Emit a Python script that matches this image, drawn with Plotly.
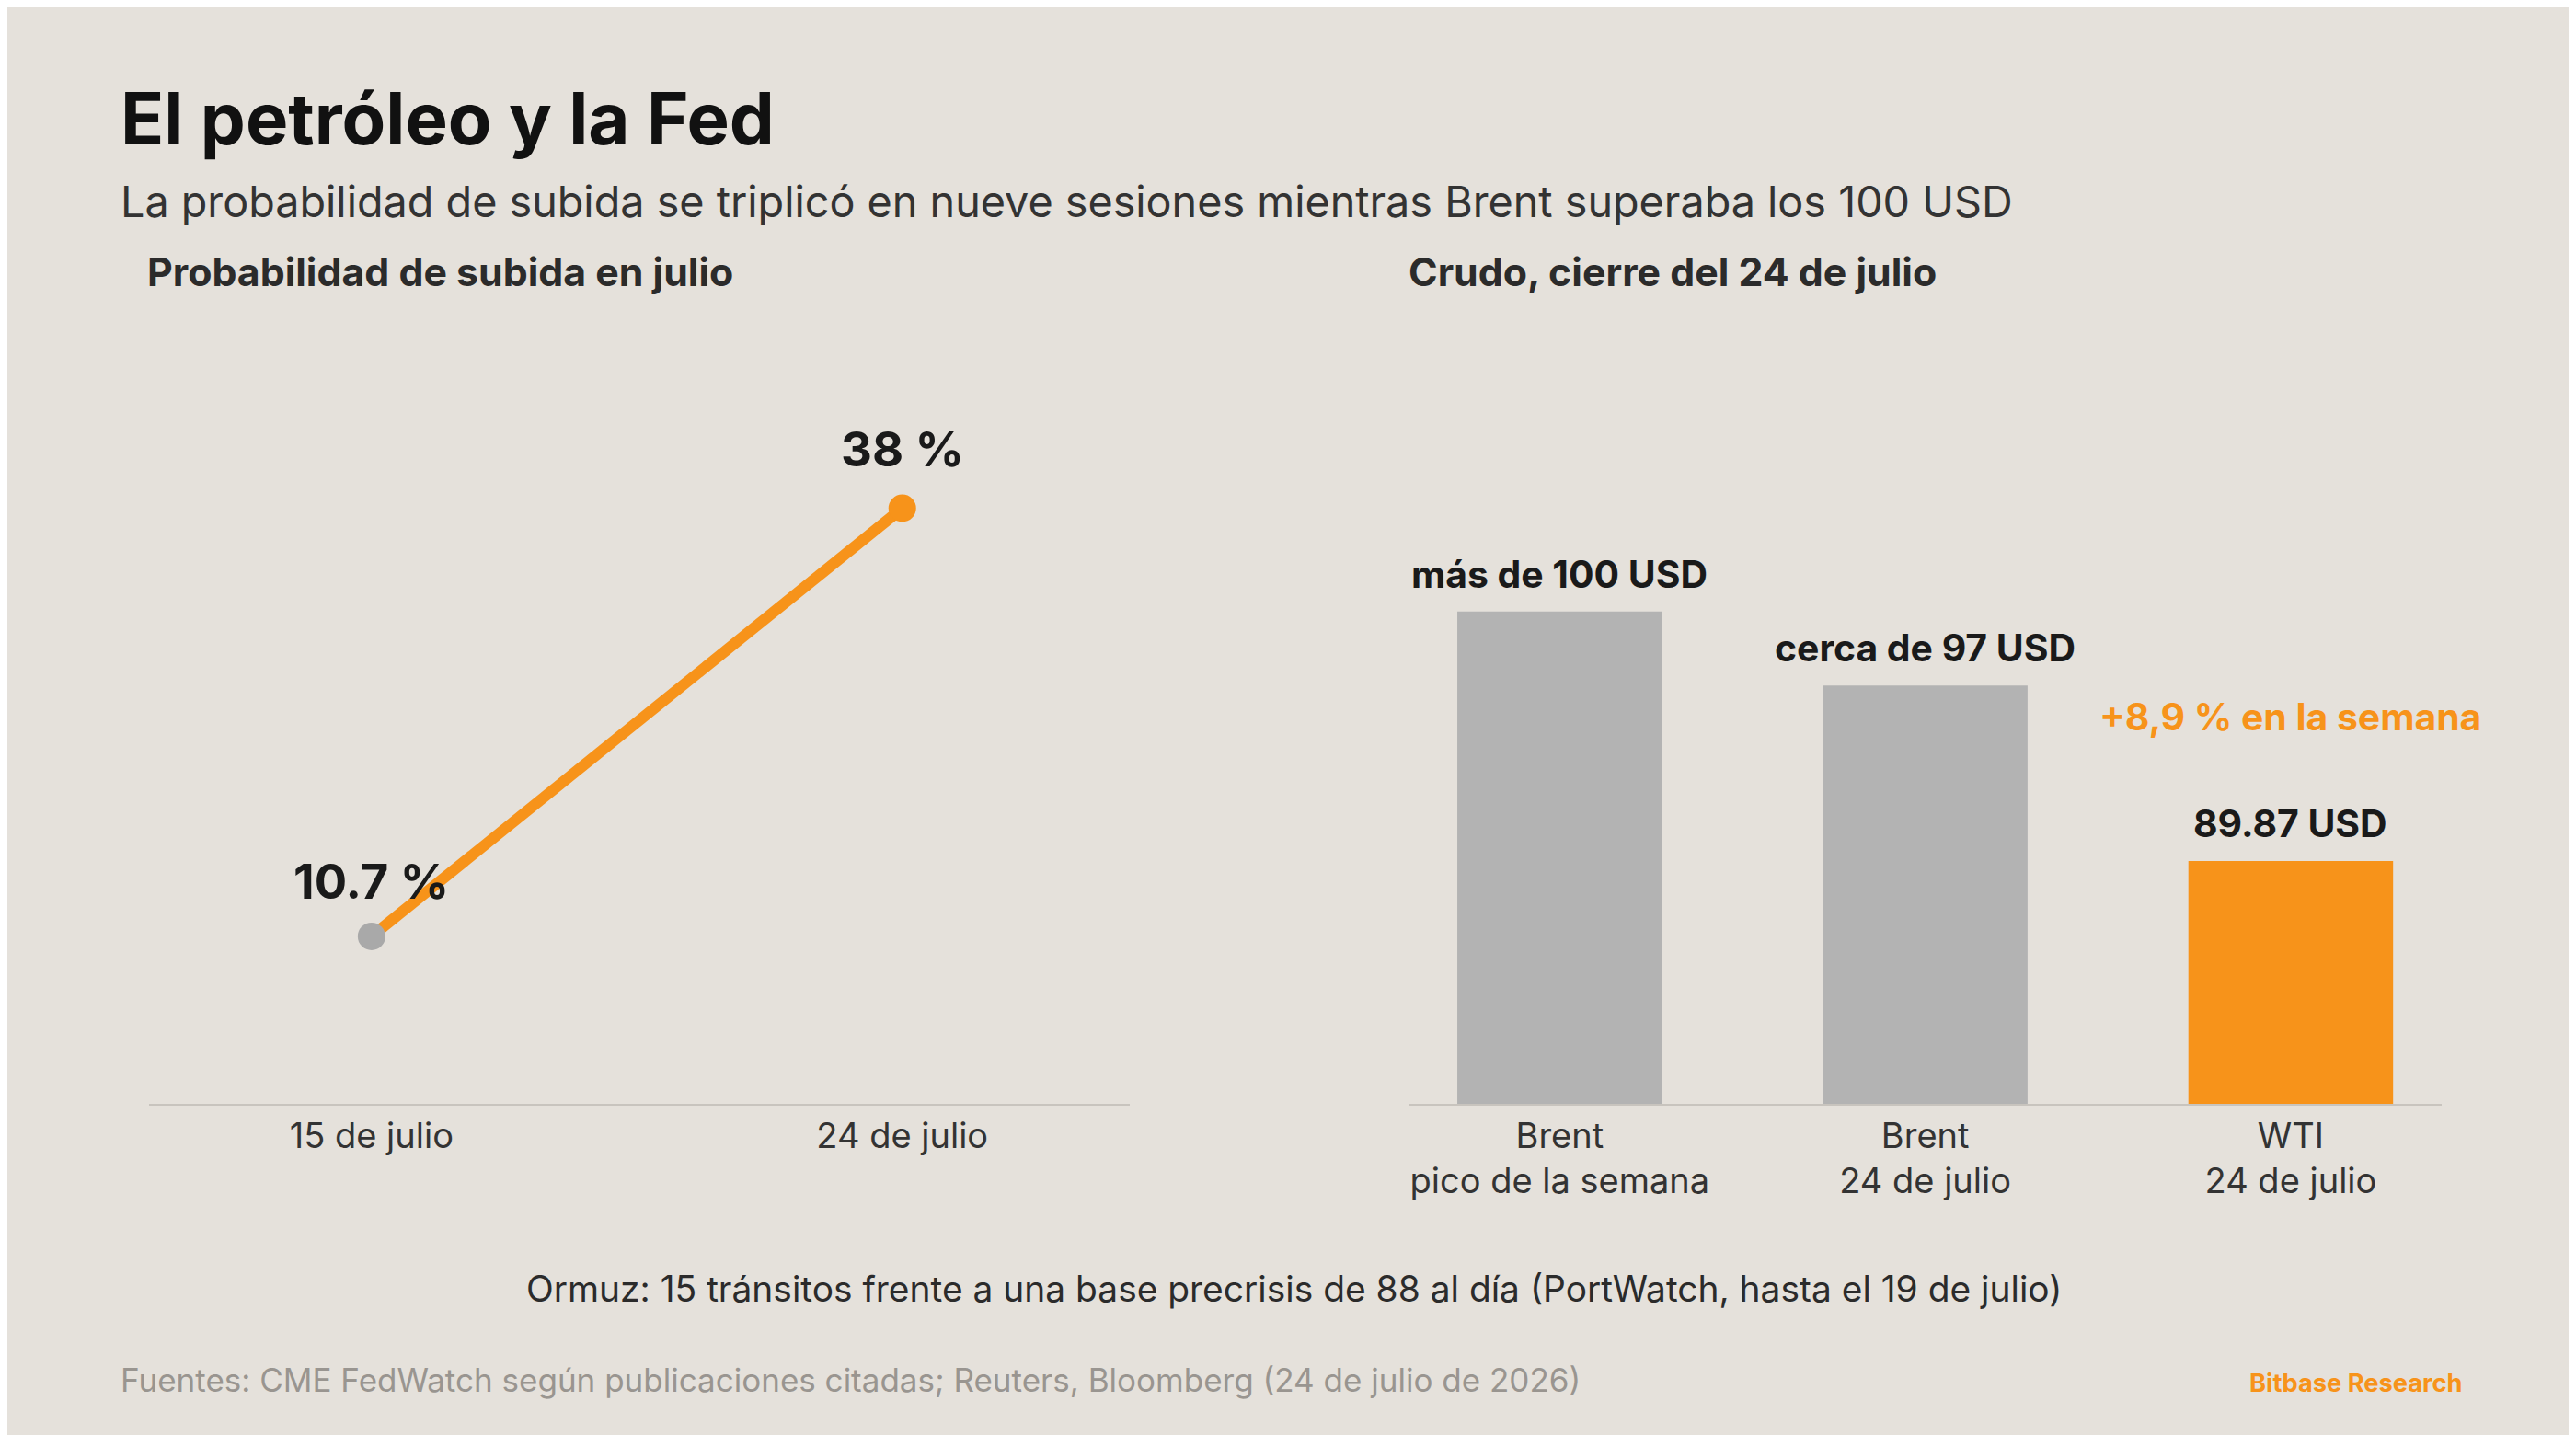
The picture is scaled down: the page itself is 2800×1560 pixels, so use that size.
import plotly.graph_objects as go

# data
fed_dates = ["15 de julio", "24 de julio"]
fed_prob = [10.7, 38.0]
fed_labels = ["10.7 %", "38 %"]

crude_cats = ["Brent<br>pico de la semana", "Brent<br>24 de julio", "WTI<br>24 de julio"]
crude_vals = [100.0, 97.0, 89.87]
crude_labels = ["más de 100 USD", "cerca de 97 USD", "89.87 USD"]
crude_colors = ["#B3B3B3", "#B3B3B3", "#F7931A"]

BG = "#E5E1DB"
ORANGE = "#F7931A"
FONT = "Inter"

W, H = 1568, 874  # design grid, scaled to 2800x1560
S = 2800 / W
K = 1.09  # widen text toward the reference face


def py(y):
    return 1 - y / H


def px(x):
    return x / W


fig = go.Figure()

fig.add_trace(go.Scatter(
    x=[0, 1], y=fed_prob, mode="lines+markers",
    line=dict(color=ORANGE, width=12),
    marker=dict(size=30, color=["#A9A9A9", ORANGE]),
    xaxis="x", yaxis="y", showlegend=False, hoverinfo="skip"))

fig.add_trace(go.Bar(
    x=[0, 1, 2], y=[v - 80 for v in crude_vals], base=80,
    marker=dict(color=crude_colors, line=dict(width=0)), width=0.56,
    xaxis="x2", yaxis="y2", showlegend=False, hoverinfo="skip"))

tick = dict(family=FONT, size=38, color="#333333")
fig.update_layout(
    width=2800, height=1560, paper_bgcolor=BG, plot_bgcolor=BG,
    margin=dict(l=0, r=0, t=0, b=0),
    xaxis=dict(domain=[px(86), px(683)], range=[-0.42, 1.428],
               tickvals=[0, 1], ticktext=fed_dates, tickfont=tick,
               showgrid=False, zeroline=False, showline=True,
               linecolor="#C8C4BE", linewidth=2, ticks=""),
    yaxis=dict(domain=[py(668), py(200)], range=[0, 49], visible=False),
    xaxis2=dict(domain=[px(853), px(1482)], range=[-0.413, 2.414],
                tickvals=[0, 1, 2], ticktext=crude_cats, tickfont=tick,
                showgrid=False, zeroline=False, showline=True,
                linecolor="#C8C4BE", linewidth=2, ticks=""),
    yaxis2=dict(domain=[py(668), py(200)], range=[80, 111.2], visible=False,
                anchor="x2"),
)

ann = []


def text(x, y, t, size, color="#1A1A1A", bold=False, xanchor="left"):
    if bold:
        t = "<b>" + t + "</b>"
    ann.append(dict(x=px(x), y=py(y), xref="paper", yref="paper", text=t,
                    showarrow=False, xanchor=xanchor, yanchor="middle",
                    font=dict(family=FONT, size=size * S * K, color=color)))


text(68, 68, "El petróleo y la Fed", 40, "#111111", True)
text(68, 118, "La probabilidad de subida se triplicó en nueve sesiones mientras Brent superaba los 100 USD", 24, "#333333")
text(84, 161, "Probabilidad de subida en julio", 22, "#2B2B2B", True)
text(852, 161, "Crudo, cierre del 24 de julio", 22, "#2B2B2B", True)

# line labels
for i, lab in enumerate(fed_labels):
    ann.append(dict(x=i, y=fed_prob[i], xref="x", yref="y", text="<b>" + lab + "</b>",
                    showarrow=False, yanchor="bottom", yshift=[26, 30][i],
                    font=dict(family=FONT, size=27 * S * K, color="#1A1A1A")))
# bar labels
for i, lab in enumerate(crude_labels):
    ann.append(dict(x=i, y=crude_vals[i], xref="x2", yref="y2", text="<b>" + lab + "</b>",
                    showarrow=False, yanchor="bottom", yshift=14,
                    font=dict(family=FONT, size=21 * S * K, color="#1A1A1A")))
ann.append(dict(x=2, y=crude_vals[2], xref="x2", yref="y2", text="<b>+8,9 % en la semana</b>",
                showarrow=False, yanchor="bottom", yshift=130,
                font=dict(family=FONT, size=21 * S * K, color=ORANGE)))

text(783, 780, "Ormuz: 15 tránsitos frente a una base precrisis de 88 al día (PortWatch, hasta el 19 de julio)", 20, "#2B2B2B", xanchor="center")
text(68, 836, "Fuentes: CME FedWatch según publicaciones citadas; Reuters, Bloomberg (24 de julio de 2026)", 18, "#999590")
text(1495, 838, "Bitbase Research", 14, ORANGE, True, xanchor="right")

fig.update_layout(annotations=ann)
fig.write_html("out.html")
